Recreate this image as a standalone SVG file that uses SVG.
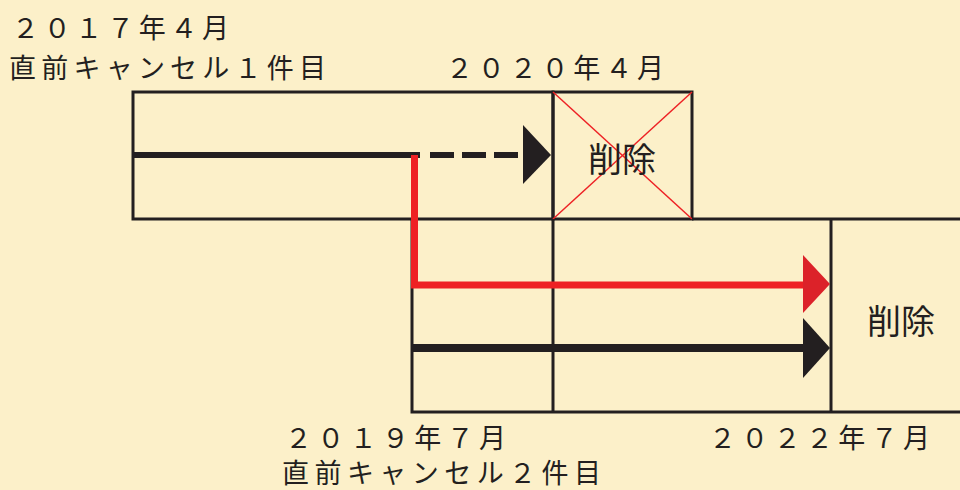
<svg xmlns="http://www.w3.org/2000/svg" width="960" height="490" viewBox="0 0 960 490">
<style>
.box{fill:none;stroke:#231F20;stroke-width:3}
.lbl{font-family:"Noto Sans CJK JP","Noto Sans",sans-serif;font-size:27px;fill:#231F20}
.del{font-family:"Noto Sans CJK JP","Noto Sans",sans-serif;font-size:34px;fill:#231F20;text-anchor:middle}
.blk{stroke:#231F20;fill:none}
.red{stroke:#EE2124;fill:none}
.headb{fill:#231F20}
.headr{fill:#DC2229}
.cross{stroke:#EE2124;stroke-width:1.5}
</style>
<rect width="960" height="490" fill="#FCF0C9"/>
<g id="period1">
<rect class="box" x="133" y="92" width="420" height="127"/>
</g>
<g id="deleted1">
<rect class="box" x="553" y="92" width="139" height="127"/>
<line class="cross" x1="553" y1="92" x2="692" y2="219"/>
<line class="cross" x1="692" y1="92" x2="553" y2="219"/>
<text class="del" x="622" y="172">削除</text>
</g>
<g id="period2">
<path class="box" d="M692 219H962M412 219V412H962M553 219V412"/>
</g>
<g id="deleted2">
<path class="box" d="M831 219V412"/>
<text class="del" x="901" y="334">削除</text>
</g>
<g id="labels">
<text class="lbl" x="12" y="38" textLength="217" lengthAdjust="spacing">２０１７年４月</text>
<text class="lbl" x="9" y="78" textLength="317" lengthAdjust="spacing">直前キャンセル１件目</text>
<text class="lbl" x="446" y="78" textLength="218" lengthAdjust="spacing">２０２０年４月</text>
<text class="lbl" x="285" y="448" textLength="221" lengthAdjust="spacing">２０１９年７月</text>
<text class="lbl" x="282" y="483" textLength="319" lengthAdjust="spacing">直前キャンセル２件目</text>
<text class="lbl" x="709" y="448" textLength="221" lengthAdjust="spacing">２０２２年７月</text>
</g>
<g id="connectors">
<path class="blk" stroke-width="6" d="M133 155H420"/>
<path class="blk" stroke-width="6" stroke-dasharray="24 8" d="M430 155H525"/>
<polygon class="headb" points="523,125 551,155 523,184"/>
<path class="red" stroke-width="7" d="M414.5 155V285H806"/>
<polygon class="headr" points="803,255 830,284 803,313"/>
<path class="blk" stroke-width="8" d="M412 348H806"/>
<polygon class="headb" points="803,318 830,348 803,378"/>
</g>
</svg>
